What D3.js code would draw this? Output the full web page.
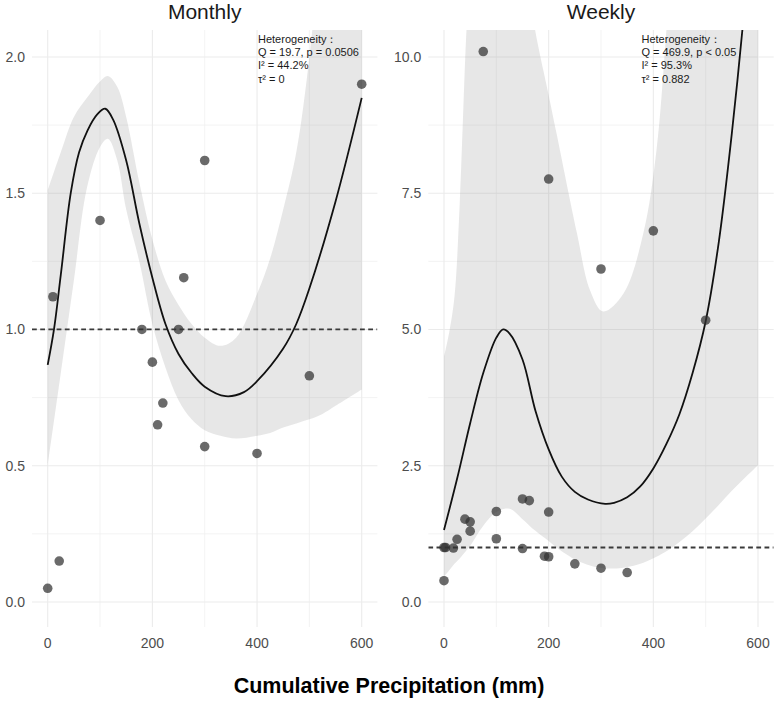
<!DOCTYPE html>
<html>
<head>
<meta charset="utf-8">
<script src="https://cdn.jsdelivr.net/npm/d3@7"></script>
<style>
  body { margin: 0; background: #fff; }
  svg { display: block; font-family: "Liberation Sans", Arial, sans-serif; }
</style>
</head>
<body>
<div id="chart"></div>
<script>
// Monthly panel: observed points
const monthlyX = [0, 10, 22, 100, 180, 200, 210, 220, 250, 260, 300, 300, 400, 500, 600];
const monthlyY = [0.05, 1.12, 0.15, 1.40, 1.00, 0.88, 0.65, 0.73, 1.00, 1.19, 1.62, 0.57, 0.545, 0.83, 1.90];

// Monthly fitted curve
const monthlyFitX = [0, 12, 25, 44, 60, 76, 95, 110, 125, 150, 175, 200, 225, 250, 275, 300, 340, 375, 400, 450, 475, 500, 550, 600];
const monthlyFit = [0.87, 1.0, 1.2, 1.5, 1.65, 1.73, 1.79, 1.81, 1.77, 1.62, 1.39, 1.19, 1.02, 0.91, 0.84, 0.79, 0.755, 0.77, 0.81, 0.93, 1.02, 1.15, 1.47, 1.85];

// Monthly confidence band
const monthlyBandX = [0, 25, 50, 75, 100, 115, 133, 150, 175, 200, 225, 250, 275, 300, 330, 360, 400, 425, 450, 475, 500, 525, 550, 600];
const monthlyUpper = [1.51, 1.65, 1.78, 1.85, 1.91, 1.93, 1.89, 1.78, 1.54, 1.33, 1.18, 1.09, 1.02, 0.97, 0.94, 0.97, 1.13, 1.26, 1.44, 1.65, 2.0, 2.5, 3.0, 4.2];
const monthlyLower = [0.50, 0.84, 1.18, 1.52, 1.67, 1.70, 1.62, 1.44, 1.25, 1.02, 0.86, 0.74, 0.67, 0.63, 0.61, 0.60, 0.61, 0.62, 0.64, 0.655, 0.67, 0.69, 0.72, 0.78];

// Weekly panel: observed points
const weeklyX = [0, 0, 3, 18, 25, 40, 50, 50, 75, 100, 100, 150, 150, 163, 192, 200, 200, 200, 250, 300, 300, 350, 400, 500];
const weeklyY = [0.39, 1.0, 1.0, 0.99, 1.15, 1.52, 1.47, 1.30, 10.1, 1.66, 1.16, 1.89, 0.98, 1.86, 0.84, 0.83, 1.65, 7.76, 0.70, 0.62, 6.11, 0.54, 6.81, 5.17];

// Weekly fitted curve
const weeklyFitX = [0, 25, 50, 75, 100, 113, 125, 150, 175, 200, 225, 250, 275, 308, 325, 350, 375, 400, 425, 450, 475, 500, 525, 550, 575, 600];
const weeklyFit = [1.32, 2.26, 3.28, 4.2, 4.85, 5.0, 4.93, 4.45, 3.5, 2.8, 2.3, 2.02, 1.88, 1.80, 1.82, 1.92, 2.12, 2.45, 2.9, 3.45, 4.2, 5.15, 6.6, 8.6, 11.0, 14.0];

// Weekly confidence band
const weeklyBandX = [0, 10, 20, 30, 43, 50, 75, 100, 125, 150, 174, 200, 215, 254, 279, 304, 343, 381, 406, 425, 450, 475, 500, 525, 550, 575, 600];
const weeklyUpper = [4.5, 4.95, 5.6, 7.3, 10.5, 11.5, 13, 14, 13.5, 12, 10.5, 9.3, 8.6, 6.77, 5.72, 5.33, 5.66, 6.77, 8.29, 10.5, 14, 18, 22, 26, 30, 34, 38];
const weeklyLower = [0.46, 0.58, 0.70, 0.80, 0.95, 1.03, 1.40, 1.65, 1.71, 1.52, 1.31, 1.12, 1.0, 0.76, 0.67, 0.62, 0.63, 0.72, 0.83, 0.93, 1.1, 1.3, 1.53, 1.78, 2.04, 2.28, 2.51];

// Axis ticks
const xMajor = [0, 200, 400, 600];
const xMinor = [100, 300, 500];
const monthlyTicks = [0, 0.5, 1.0, 1.5, 2.0];
const monthlyMinor = [0.25, 0.75, 1.25, 1.75];
const weeklyTicks = [0, 2.5, 5.0, 7.5, 10.0];
const weeklyMinor = [1.25, 3.75, 6.25, 8.75];

const panelTitles = ["Monthly", "Weekly"];
const hetText = [
    ["Heterogeneity：", "Q = 19.7, p = 0.0506", "I² = 44.2%", "τ² = 0"],
    ["Heterogeneity：", "Q = 469.9, p < 0.05", "I² = 95.3%", "τ² = 0.882"]
];

const width = 778, height = 702;
const plotTop = 30, plotBottom = 627;

const svg = d3.select("#chart")
    .append("svg")
    .attr("width", width)
    .attr("height", height);

const panels = [
    {
        left: 32, right: 377.4, yDomain: [-0.092, 2.099],
        ticks: monthlyTicks, minor: monthlyMinor,
        px: monthlyX, py: monthlyY, fx: monthlyFitX, fy: monthlyFit,
        bx: monthlyBandX, bu: monthlyUpper, bl: monthlyLower,
        textX: 258
    },
    {
        left: 428.3, right: 773.7, yDomain: [-0.459, 10.495],
        ticks: weeklyTicks, minor: weeklyMinor,
        px: weeklyX, py: weeklyY, fx: weeklyFitX, fy: weeklyFit,
        bx: weeklyBandX, bu: weeklyUpper, bl: weeklyLower,
        textX: 641.5
    }
];

const smooth = d3.curveCatmullRom.alpha(0.5);

panels.forEach((p, i) => {
    const x = d3.scaleLinear().domain([-30, 630]).range([p.left, p.right]);
    const y = d3.scaleLinear().domain(p.yDomain).range([plotBottom, plotTop]);
    const g = svg.append("g");

    g.append("clipPath").attr("id", "clip" + i)
        .append("rect")
        .attr("x", p.left).attr("y", plotTop)
        .attr("width", p.right - p.left).attr("height", plotBottom - plotTop);

    // grid lines
    g.selectAll(".vminor").data(xMinor).enter().append("line")
        .attr("x1", d => x(d)).attr("x2", d => x(d))
        .attr("y1", plotTop).attr("y2", plotBottom)
        .style("stroke", "#f0f0f0").style("stroke-width", 0.8);
    g.selectAll(".hminor").data(p.minor).enter().append("line")
        .attr("x1", p.left).attr("x2", p.right)
        .attr("y1", d => y(d)).attr("y2", d => y(d))
        .style("stroke", "#f0f0f0").style("stroke-width", 0.8);
    g.selectAll(".vmajor").data(xMajor).enter().append("line")
        .attr("x1", d => x(d)).attr("x2", d => x(d))
        .attr("y1", plotTop).attr("y2", plotBottom)
        .style("stroke", "#ebebeb").style("stroke-width", 1.1);
    g.selectAll(".hmajor").data(p.ticks).enter().append("line")
        .attr("x1", p.left).attr("x2", p.right)
        .attr("y1", d => y(d)).attr("y2", d => y(d))
        .style("stroke", "#ebebeb").style("stroke-width", 1.1);

    const plot = g.append("g").attr("clip-path", `url(#clip${i})`);

    // confidence band
    const band = p.bx.map((v, k) => ({ x: v, lo: p.bl[k], hi: p.bu[k] }));
    plot.append("path")
        .datum(band)
        .attr("d", d3.area()
            .x(d => x(d.x))
            .y0(d => y(d.lo))
            .y1(d => y(d.hi))
            .curve(smooth))
        .style("fill", "#888")
        .style("fill-opacity", 0.2);

    // reference line at 1
    plot.append("line")
        .attr("x1", p.left).attr("x2", p.right)
        .attr("y1", y(1)).attr("y2", y(1))
        .style("stroke", "#3a3a3a")
        .style("stroke-width", 1.8)
        .style("stroke-dasharray", "4.8,3.4");

    // fitted curve
    const fit = p.fx.map((v, k) => ({ x: v, y: p.fy[k] }));
    plot.append("path")
        .datum(fit)
        .attr("d", d3.line().x(d => x(d.x)).y(d => y(d.y)).curve(smooth))
        .style("fill", "none")
        .style("stroke", "#111")
        .style("stroke-width", 1.8);

    // points
    const pts = p.px.map((v, k) => ({ x: v, y: p.py[k] }));
    plot.selectAll(".dot").data(pts).enter().append("circle")
        .attr("cx", d => x(d.x))
        .attr("cy", d => y(d.y))
        .attr("r", 4.8)
        .style("fill", "#303030")
        .style("fill-opacity", 0.72);

    // axis labels
    g.selectAll(".ylab").data(p.ticks).enter().append("text")
        .attr("x", p.left - 7)
        .attr("y", d => y(d))
        .attr("dy", "0.35em")
        .attr("text-anchor", "end")
        .style("font-size", "14px")
        .style("fill", "#4d4d4d")
        .text(d => d3.format(".1f")(d));
    g.selectAll(".xlab").data(xMajor).enter().append("text")
        .attr("x", d => x(d))
        .attr("y", 648)
        .attr("text-anchor", "middle")
        .style("font-size", "14px")
        .style("fill", "#4d4d4d")
        .text(d => d);

    // panel title
    g.append("text")
        .attr("x", (p.left + p.right) / 2)
        .attr("y", 19)
        .attr("text-anchor", "middle")
        .style("font-size", "21px")
        .style("fill", "#1a1a1a")
        .text(panelTitles[i]);

    // heterogeneity annotation
    g.selectAll(".het").data(hetText[i]).enter().append("text")
        .attr("x", p.textX)
        .attr("y", (d, k) => 43 + k * 13.2)
        .style("font-size", "11px")
        .style("fill", "#1a1a1a")
        .text(d => d);
});

// shared x axis title
svg.append("text")
    .attr("x", 389)
    .attr("y", 693)
    .attr("text-anchor", "middle")
    .style("font-size", "21.5px")
    .style("font-weight", "bold")
    .style("fill", "#000")
    .text("Cumulative Precipitation (mm)");
</script>
</body>
</html>
